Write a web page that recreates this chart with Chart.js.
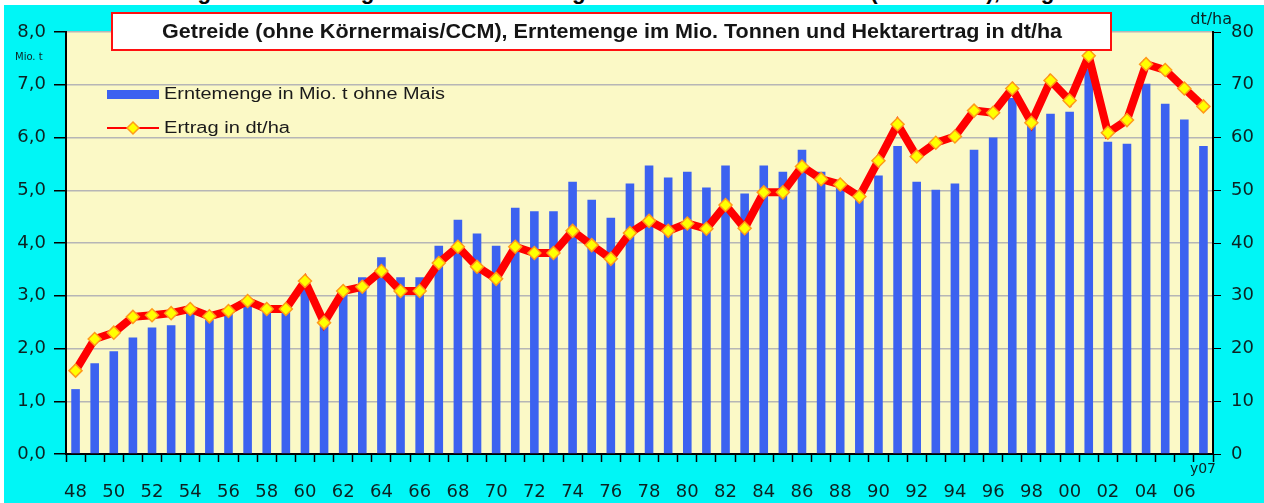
<!DOCTYPE html>
<html>
<head>
<meta charset="utf-8">
<script src="https://cdn.jsdelivr.net/npm/chart.js@4/dist/chart.umd.min.js"></script>
<style>
  html, body { margin: 0; padding: 0; background: #fff; overflow: hidden; }
  #head { position: absolute; left: 0; top: 0; width: 1264px; height: 5px; overflow: hidden; }
  #head span { position: absolute; left: 80px; top: -21px; font: bold 22px Arial, "Liberation Sans", sans-serif;
    white-space: nowrap; color: #000; transform-origin: 0 0; }
  #wrap { position: absolute; left: 4px; top: 5px; width: 1260px; height: 498px; background: #00f6f6; }
</style>
</head>
<body>
<div id="head"><span id="headText">Entwicklung der Erntemengen und Hektarerträge von Getreide in Sachsen (ohne Mais), Vergleich 1948 - 2007</span></div>
<div id="wrap"><canvas id="chart" width="1260" height="498"></canvas></div>
<script>
const years = ['48', '49', '50', '51', '52', '53', '54', '55', '56', '57', '58', '59',
  '60', '61', '62', '63', '64', '65', '66', '67', '68', '69',
  '70', '71', '72', '73', '74', '75', '76', '77', '78', '79',
  '80', '81', '82', '83', '84', '85', '86', '87', '88', '89',
  '90', '91', '92', '93', '94', '95', '96', '97', '98', '99',
  '00', '01', '02', '03', '04', '05', '06', '07'];

// Erntemenge in Mio. t (left axis)
const erntemenge = [1.23, 1.72, 1.95, 2.21, 2.40, 2.44, 2.67, 2.54, 2.66, 2.84, 2.70, 2.73,
  3.17, 2.48, 3.05, 3.35, 3.73, 3.35, 3.35, 3.95, 4.44, 4.18,
  3.95, 4.67, 4.60, 4.60, 5.16, 4.82, 4.48, 5.13, 5.47, 5.24,
  5.35, 5.05, 5.47, 4.94, 5.47, 5.35, 5.77, 5.35, 5.10, 4.90,
  5.28, 5.84, 5.16, 5.01, 5.13, 5.77, 6.00, 6.75, 6.26, 6.45,
  6.49, 7.30, 5.92, 5.88, 7.02, 6.64, 6.34, 5.84];

// Ertrag in dt/ha (right axis)
const ertrag = [15.8, 21.8, 23.0, 26.0, 26.3, 26.7, 27.5, 26.1, 27.1, 29.0, 27.5, 27.5,
  32.8, 24.9, 30.9, 31.7, 34.7, 30.9, 30.9, 36.2, 39.3, 35.5,
  33.2, 39.3, 38.1, 38.1, 42.3, 39.6, 37.0, 41.9, 44.2, 42.3,
  43.7, 42.7, 47.2, 42.8, 49.6, 49.6, 54.5, 52.1, 51.1, 48.8,
  55.6, 62.5, 56.4, 59.0, 60.2, 65.1, 64.7, 69.3, 62.8, 70.8,
  67.0, 75.5, 60.9, 63.3, 73.9, 72.8, 69.3, 65.9];

const titleText = 'Getreide (ohne Körnermais/CCM), Erntemenge im Mio. Tonnen und Hektarertrag in dt/ha';
const leftUnit = 'Mio. t';
const rightUnit = 'dt/ha';
const lastYearLabel = 'y07';

const FONT = '"DejaVu Sans", Arial, sans-serif';
const TEXT = '#0c2222';

// stretch the clipped page headline to its width
const head = document.getElementById('headText');
head.style.transform = 'scaleX(' + (1150 / head.offsetWidth) + ')';

// draw text squeezed/stretched to a given width
function fitText(ctx, text, x, y, width) {
  const w = ctx.measureText(text).width;
  ctx.save();
  ctx.translate(x, y);
  ctx.scale(width / w, 1);
  ctx.fillText(text, 0, 0);
  ctx.restore();
}

const decorations = {
  id: 'decorations',
  beforeDraw(chart) {
    const { ctx, chartArea: a } = chart;
    ctx.save();
    ctx.fillStyle = '#fbf9c6';
    ctx.fillRect(a.left, a.top, a.right - a.left, a.bottom - a.top);
    ctx.restore();
  },
  afterDraw(chart) {
    const { ctx, chartArea: a } = chart;
    const bars = chart.data.datasets[0];
    const line = chart.data.datasets[1];
    ctx.save();

    // legend inside the plot
    ctx.font = '16px Arial, "Liberation Sans", sans-serif';
    ctx.textBaseline = 'middle';
    ctx.fillStyle = bars.backgroundColor;
    ctx.fillRect(a.left + 41, 85, 52, 9);
    ctx.fillStyle = '#1a1a1a';
    fitText(ctx, bars.label, a.left + 98, 90, 281);

    ctx.strokeStyle = line.borderColor;
    ctx.lineWidth = 2;
    ctx.beginPath();
    ctx.moveTo(a.left + 41, 123);
    ctx.lineTo(a.left + 93, 123);
    ctx.stroke();
    ctx.fillStyle = line.pointBackgroundColor;
    ctx.strokeStyle = line.pointBorderColor;
    ctx.lineWidth = 1.5;
    ctx.beginPath();
    const cx = a.left + 67, cy = 123;
    ctx.moveTo(cx, cy - 6); ctx.lineTo(cx + 6, cy); ctx.lineTo(cx, cy + 6); ctx.lineTo(cx - 6, cy); ctx.closePath();
    ctx.fill(); ctx.stroke();
    ctx.fillStyle = '#1a1a1a';
    fitText(ctx, line.label, a.left + 98, 124, 126);

    // title box
    ctx.fillStyle = '#fff';
    ctx.fillRect(108, 8, 999, 37);
    ctx.strokeStyle = '#ff1010';
    ctx.lineWidth = 2;
    ctx.strokeRect(108, 8, 999, 37);
    ctx.font = 'bold 20px Arial, "Liberation Sans", sans-serif';
    ctx.fillStyle = '#151515';
    fitText(ctx, titleText, 158, 27, 900);

    // axis unit labels
    ctx.fillStyle = TEXT;
    ctx.textAlign = 'left';
    ctx.font = '10px ' + FONT;
    ctx.fillText(leftUnit, 11, 52);
    ctx.font = '16px ' + FONT;
    ctx.textAlign = 'right';
    ctx.fillText(rightUnit, a.right + 19, 15);
    ctx.font = '14px ' + FONT;
    ctx.fillText(lastYearLabel, a.right + 3, 464);
    ctx.restore();
  }
};

new Chart(document.getElementById('chart'), {
  type: 'bar',
  data: {
    labels: years,
    datasets: [{
      type: 'bar',
      label: 'Erntemenge in Mio. t ohne Mais',
      data: erntemenge,
      yAxisID: 'y',
      backgroundColor: '#3c62f0',
      categoryPercentage: 1,
      barPercentage: 0.45,
      order: 2
    }, {
      type: 'line',
      label: 'Ertrag in dt/ha',
      data: ertrag,
      yAxisID: 'y1',
      borderColor: '#ff0000',
      borderWidth: 8,
      pointStyle: 'rectRot',
      pointRadius: 6.5,
      pointBackgroundColor: '#ffff00',
      pointBorderColor: '#ff9a1a',
      pointBorderWidth: 1.5,
      tension: 0,
      order: 1
    }]
  },
  options: {
    responsive: false,
    animation: false,
    layout: { padding: { top: 27, left: 0, right: 0, bottom: 0 } },
    plugins: { legend: { display: false }, tooltip: { enabled: false } },
    scales: {
      x: {
        grid: { drawOnChartArea: false, offset: true, tickLength: 8, tickColor: '#000', tickWidth: 1.5 },
        border: { color: '#000', width: 2 },
        ticks: {
          autoSkip: false, maxRotation: 0, padding: 20, color: TEXT,
          font: { family: FONT, size: 18 },
          callback: (v, i) => (i % 2 === 0 ? years[i] : '')
        },
        afterFit: s => { s.height = 49; }
      },
      y: {
        position: 'left', min: 0, max: 8,
        grid: { color: '#b6b6b6', lineWidth: 1.5, tickColor: '#000', tickLength: 12 },
        border: { color: '#000', width: 2 },
        ticks: {
          stepSize: 1, padding: 8, color: TEXT, font: { family: FONT, size: 18 },
          callback: v => v.toFixed(1).replace('.', ',')
        },
        afterFit: s => { s.width = 62; }
      },
      y1: {
        position: 'right', min: 0, max: 80,
        grid: { drawOnChartArea: false, tickColor: '#000', tickLength: 8 },
        border: { color: '#000', width: 2 },
        ticks: { stepSize: 10, padding: 10, color: TEXT, font: { family: FONT, size: 18 } },
        afterFit: s => { s.width = 51; }
      }
    }
  },
  plugins: [decorations]
});
</script>
</body>
</html>
